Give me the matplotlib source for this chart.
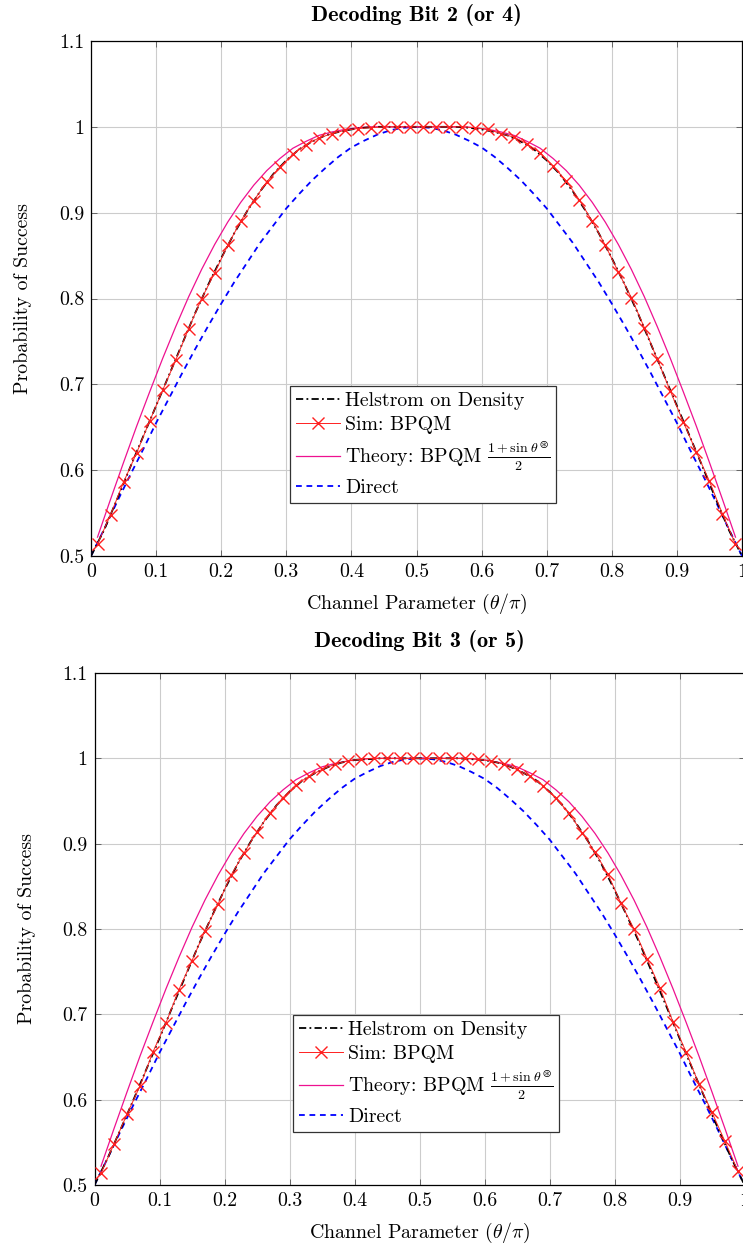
import numpy as np
import matplotlib
matplotlib.use("Agg")
import matplotlib.pyplot as plt

plt.rcParams['font.family'] = ['cmr10', 'DejaVu Serif']
plt.rcParams['mathtext.fontset'] = 'cm'
plt.rcParams['axes.unicode_minus'] = False
plt.rcParams['axes.formatter.use_mathtext'] = True

# x positions
x_sim = np.linspace(0.01, 0.99, 50)   # simulated / theory points
x_fine = np.linspace(0.0, 1.0, 51)    # helstrom / direct points

# Decoding bit 2 (or 4)
sim_b2 = [0.514, 0.548, 0.586, 0.620, 0.657, 0.693, 0.728, 0.765, 0.800, 0.830,
          0.862, 0.890, 0.914, 0.936, 0.953, 0.968, 0.979, 0.987, 0.992, 0.996,
          0.998, 0.999, 1.0, 1.0, 1.0,
          1.0, 1.0, 1.0, 1.0, 0.999, 0.997, 0.992, 0.988, 0.980, 0.970,
          0.954, 0.937, 0.915, 0.890, 0.862, 0.831, 0.801, 0.766, 0.729, 0.692,
          0.656, 0.621, 0.587, 0.549, 0.514]
helstrom_b2 = [0.500, 0.530, 0.566, 0.603, 0.639, 0.675, 0.711, 0.747, 0.783, 0.816,
               0.847, 0.876, 0.902, 0.925, 0.945, 0.961, 0.974, 0.983, 0.990, 0.994,
               0.997, 0.999, 1.0, 1.0, 1.0, 1.0,
               1.0, 1.0, 1.0, 0.999, 0.997, 0.994, 0.990, 0.983, 0.974, 0.961,
               0.945, 0.925, 0.902, 0.876, 0.847, 0.816, 0.783, 0.747, 0.711, 0.675,
               0.639, 0.603, 0.566, 0.530, 0.500]

# Decoding bit 3 (or 5)
sim_b3 = [0.514, 0.548, 0.583, 0.616, 0.656, 0.690, 0.729, 0.763, 0.798, 0.829,
          0.863, 0.889, 0.914, 0.936, 0.954, 0.969, 0.979, 0.987, 0.993, 0.997,
          0.999, 1.0, 1.0, 1.0, 1.0,
          1.0, 1.0, 1.0, 1.0, 0.999, 0.997, 0.993, 0.987, 0.979, 0.968,
          0.953, 0.936, 0.913, 0.890, 0.864, 0.830, 0.800, 0.765, 0.731, 0.691,
          0.656, 0.618, 0.585, 0.551, 0.516]
helstrom_b3 = [0.500, 0.531, 0.565, 0.600, 0.636, 0.672, 0.709, 0.745, 0.781, 0.814,
               0.846, 0.876, 0.902, 0.925, 0.945, 0.961, 0.974, 0.983, 0.990, 0.995,
               0.998, 0.999, 1.0, 1.0, 1.0, 1.0,
               1.0, 1.0, 1.0, 0.999, 0.998, 0.995, 0.990, 0.983, 0.974, 0.961,
               0.945, 0.925, 0.902, 0.876, 0.846, 0.814, 0.781, 0.745, 0.709, 0.672,
               0.636, 0.600, 0.565, 0.531, 0.500]

# shared curves
theory = [0.522, 0.566, 0.609, 0.651, 0.691, 0.730, 0.767, 0.802, 0.834, 0.863,
          0.889, 0.912, 0.932, 0.949, 0.963, 0.975, 0.983, 0.990, 0.994, 0.997,
          0.999, 1.0, 1.0, 1.0, 1.0,
          1.0, 1.0, 1.0, 1.0, 0.999, 0.997, 0.994, 0.990, 0.983, 0.975,
          0.963, 0.949, 0.932, 0.912, 0.889, 0.863, 0.834, 0.802, 0.767, 0.730,
          0.691, 0.651, 0.609, 0.566, 0.522]
direct = [0.500, 0.531, 0.563, 0.594, 0.624, 0.655, 0.684, 0.713, 0.741, 0.768,
          0.794, 0.819, 0.842, 0.865, 0.885, 0.905, 0.922, 0.938, 0.952, 0.965,
          0.976, 0.984, 0.991, 0.996, 0.999, 1.0,
          0.999, 0.996, 0.991, 0.984, 0.976, 0.965, 0.952, 0.938, 0.922, 0.905,
          0.885, 0.865, 0.842, 0.819, 0.794, 0.768, 0.741, 0.713, 0.684, 0.655,
          0.624, 0.594, 0.563, 0.531, 0.500]

xticks = [0, 0.1, 0.2, 0.3, 0.4, 0.5, 0.6, 0.7, 0.8, 0.9, 1]
xticklabels = ['0', '0.1', '0.2', '0.3', '0.4', '0.5', '0.6', '0.7', '0.8', '0.9', '1']
yticks = [0.5, 0.6, 0.7, 0.8, 0.9, 1.0, 1.1]
yticklabels = ['0.5', '0.6', '0.7', '0.8', '0.9', '1', '1.1']

titles = ['Decoding Bit 2 (or 4)', 'Decoding Bit 3 (or 5)']
sims = [sim_b2, sim_b3]
helstroms = [helstrom_b2, helstrom_b3]

W, H = 743, 1247
fig = plt.figure(figsize=(W / 100, H / 100), dpi=100)

# axes boxes in pixels: left, top, right, bottom
boxes = [(91, 41, 742, 556), (94.5, 673, 744.5, 1185)]
title_y = [15, 641]
fs = 14.3

for i, (l, t, r, b) in enumerate(boxes):
    ax = fig.add_axes([l / W, (H - b) / H, (r - l) / W, (b - t) / H])
    ax.plot(x_fine, direct, color='#0000ff', ls=(0, (3.2, 2.6)), lw=1.3,
            label='Direct', zorder=3)
    ax.plot(x_sim, theory, color='#ee1190', lw=0.9,
            label=r'Theory: BPQM $\frac{1+\sin\,\theta^{\circledast}}{2}$', zorder=4)
    ax.plot(x_fine, helstroms[i], color='black', ls=(0, (4, 1.8, 1, 1.8)), lw=1.3,
            label='Helstrom on Density', zorder=5)
    ax.plot(x_sim, sims[i], color='#ff2020', lw=0.7, marker='x', ms=9, mew=1.0,
            label='Sim: BPQM', zorder=6)

    ax.set_xlim(0, 1)
    ax.set_ylim(0.5, 1.1)
    ax.set_xticks(xticks)
    ax.set_xticklabels(xticklabels, fontsize=fs)
    ax.set_yticks(yticks)
    ax.set_yticklabels(yticklabels, fontsize=fs)
    ax.tick_params(direction='in', top=True, right=True, length=4, width=0.6,
                   color='#555555', pad=5)
    ax.grid(True, color='#cccccc', lw=0.8)
    ax.set_axisbelow(True)
    for sp in ax.spines.values():
        sp.set_linewidth(0.9)
    ax.set_xlabel(r'Channel Parameter $(\theta/\pi)$', fontsize=fs, labelpad=8)
    ax.set_ylabel('Probability of Success', fontsize=fs, labelpad=19)

    h, lab = ax.get_legend_handles_labels()
    order = [2, 3, 1, 0]
    leg = ax.legend([h[k] for k in order], [lab[k] for k in order],
                    loc='lower left', bbox_to_anchor=(0.306, 0.103),
                    fontsize=fs, frameon=True, fancybox=False, framealpha=1,
                    edgecolor='#333333', handlelength=2.2, handletextpad=0.25,
                    labelspacing=0.3, borderpad=0.3, borderaxespad=0)
    leg.get_frame().set_linewidth(0.9)

    fig.text((l + r) / 2 / W, 1 - title_y[i] / H, titles[i], family='cmb10',
             fontsize=16, ha='center', va='center')

fig.savefig('out.png', dpi=100)
